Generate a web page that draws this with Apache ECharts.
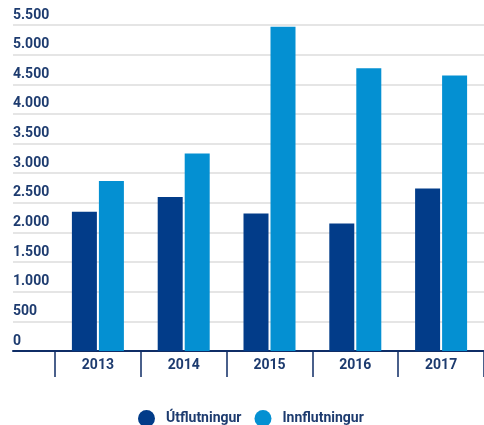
<!DOCTYPE html>
<html><head><meta charset="utf-8">
<script src="https://cdn.jsdelivr.net/npm/echarts@6/dist/echarts.min.js"></script>
<style>html,body{margin:0;padding:0;background:#fff}#c{width:484px;height:425px}</style>
</head><body><div id="c"></div>
<script>
const categories = ['2013', '2014', '2015', '2016', '2017'];
const utflutningur = [2350, 2600, 2320, 2150, 2740];
const innflutningur = [2870, 3330, 5470, 4770, 4650];
const seriesNames = ['Útflutningur', 'Innflutningur'];
const yTicks = { min: 0, max: 5500, interval: 500 };

const navy = '#1d3b6f';
const chart = echarts.init(document.getElementById('c'));
chart.setOption({
  animation: false,
  textStyle: { fontFamily: 'Roboto' },
  grid: [
    { left: 13, right: 0, top: 25, bottom: 74 },
    { left: 55, right: -1, top: 25, bottom: 74 }
  ],
  legend: {
    data: seriesNames, top: 405, left: 133, icon: 'circle',
    itemWidth: 17, itemHeight: 17, itemGap: 13,
    textStyle: { color: navy, fontWeight: 'bold', fontSize: 14, fontFamily: 'Roboto', padding: [0, 0, 0, 6] }
  },
  xAxis: [
    { gridIndex: 0, type: 'category', data: [''], axisLine: { show: true, lineStyle: { color: '#0f2d66', width: 2 } },
      axisTick: { show: false }, axisLabel: { show: false } },
    { gridIndex: 1, type: 'category', data: categories, axisLine: { show: false },
      axisTick: { show: true, length: 26, lineStyle: { color: '#0f2d66', width: 1.5 } },
      axisLabel: { color: navy, fontWeight: 'bold', fontSize: 14, margin: 7, fontFamily: 'Roboto' } }
  ],
  yAxis: [
    { gridIndex: 0, type: 'value', min: yTicks.min, max: yTicks.max, interval: yTicks.interval,
      axisLine: { show: false }, axisTick: { show: false },
      splitLine: { lineStyle: { color: '#dcdcdc', width: 1.5 } },
      axisLabel: { inside: true, margin: 0, verticalAlign: 'bottom', align: 'left', padding: [0, 0, 3, 0],
        color: navy, fontWeight: 'bold', fontSize: 14, fontFamily: 'Roboto',
        formatter: v => v >= 1000 ? String(v).replace(/(\d)(?=(\d{3})+$)/g, '$1.') : String(v) } },
    { gridIndex: 1, type: 'value', min: yTicks.min, max: yTicks.max, interval: yTicks.interval, show: false,
      splitLine: { show: false } }
  ],
  series: [
    { name: seriesNames[0], type: 'bar', xAxisIndex: 1, yAxisIndex: 1, data: utflutningur,
      barWidth: 25, barGap: '8%', itemStyle: { color: '#023c89' } },
    { name: seriesNames[1], type: 'bar', xAxisIndex: 1, yAxisIndex: 1, data: innflutningur,
      barWidth: 25, barGap: '8%', itemStyle: { color: '#0490d2' } }
  ]
});
</script></body></html>
